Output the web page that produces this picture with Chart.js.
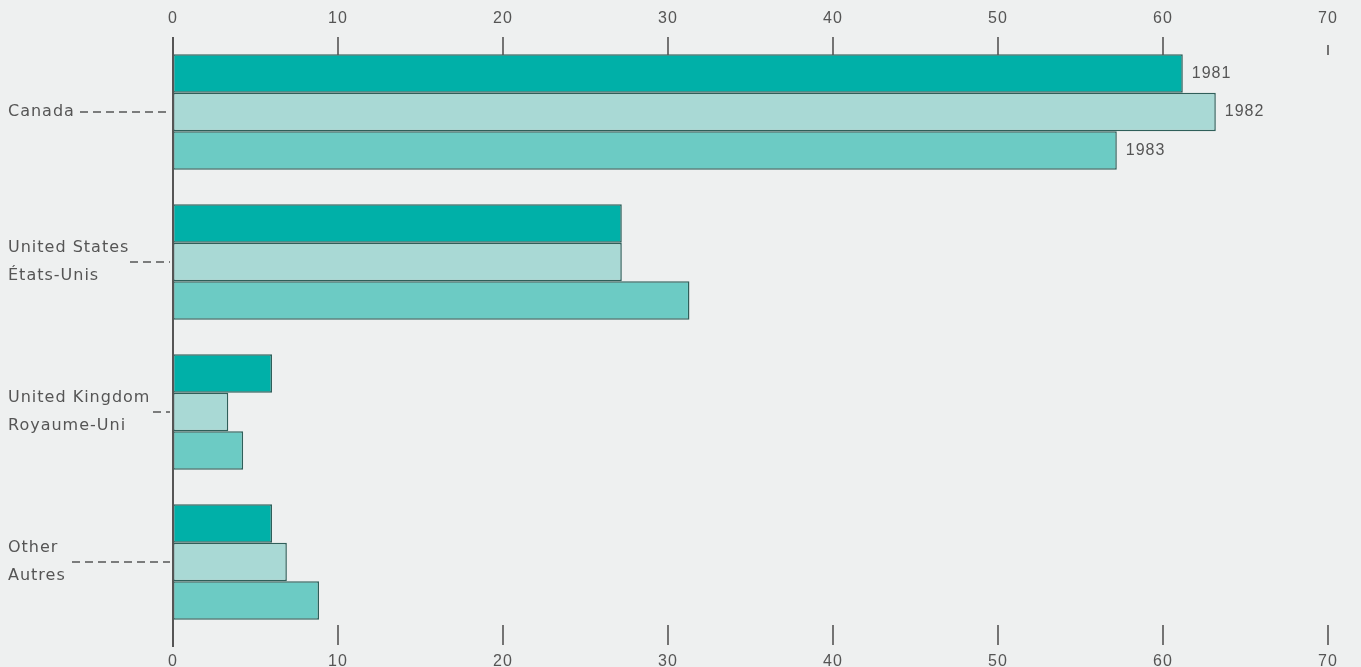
<!DOCTYPE html>
<html>
<head>
<meta charset="utf-8">
<script src="https://cdn.jsdelivr.net/npm/chart.js@4.4.0/dist/chart.umd.min.js"></script>
<style>
  html, body { margin: 0; padding: 0; background: #eef0f0; }
  #wrap { width: 1361px; height: 667px; }
</style>
</head>
<body>
<div id="wrap"><canvas id="chart"></canvas></div>
<script>
var countries = ["Canada", ["United States", "États-Unis"], ["United Kingdom", "Royaume-Uni"], ["Other", "Autres"]]
var years = ["1981", "1982", "1983"]
var v1981 = [61.2, 27.2, 6.0, 6.0]
var v1982 = [63.2, 27.2, 3.35, 6.9]
var v1983 = [57.2, 31.3, 4.25, 8.85]
var xTicks = [0, 10, 20, 30, 40, 50, 60, 70]

var colors = ["#00b0a8", "#a9d9d5", "#6ccbc4"]
var edge = "#2f5f5a"
var grey = "#555"
var numFont = "'Liberation Sans', Arial, sans-serif"

// where each dashed leader starts (x px) - it ends on the axis
var leaderFrom = [80, 130, 153, 72]

var extras = {
  id: "extras",
  beforeDraw: function (chart) {
    chart.ctx.letterSpacing = "1px"
  },
  afterDatasetsDraw: function (chart) {
    var ctx = chart.ctx
    var area = chart.chartArea
    var x = chart.scales.x
    var y = chart.scales.y
    ctx.save()
    // zero line
    ctx.strokeStyle = grey
    ctx.lineWidth = 2
    ctx.beginPath()
    ctx.moveTo(x.getPixelForValue(0), area.top)
    ctx.lineTo(x.getPixelForValue(0), area.bottom + 10)
    ctx.stroke()
    // tick marks
    ctx.lineWidth = 1.6
    xTicks.forEach(function (t) {
      if (t === 0) return
      var px = x.getPixelForValue(t)
      ctx.beginPath()
      ctx.moveTo(px, t === 70 ? area.top + 8 : area.top)
      ctx.lineTo(px, area.top + 18)
      ctx.moveTo(px, area.bottom - 12)
      ctx.lineTo(px, area.bottom + 8)
      ctx.stroke()
    })
    // dashed leaders
    ctx.setLineDash([8, 5])
    ctx.lineWidth = 1.4
    ctx.strokeStyle = "#555"
    countries.forEach(function (c, i) {
      var py = y.getPixelForValue(i)
      ctx.beginPath()
      ctx.moveTo(leaderFrom[i], py)
      ctx.lineTo(area.left - 3, py)
      ctx.stroke()
    })
    ctx.setLineDash([])
    // year labels on the Canada bars
    ctx.fillStyle = grey
    ctx.font = "16px " + numFont
    ctx.textBaseline = "middle"
    chart.data.datasets.forEach(function (ds, i) {
      var bar = chart.getDatasetMeta(i).data[0]
      ctx.fillText(ds.label, bar.x + 9, bar.y)
    })
    ctx.restore()
  }
}

var config = {
  type: "bar",
  data: {
    labels: countries,
    datasets: [
      { label: years[0], data: v1981, backgroundColor: colors[0] },
      { label: years[1], data: v1982, backgroundColor: colors[1] },
      { label: years[2], data: v1983, backgroundColor: colors[2] }
    ]
  },
  options: {
    indexAxis: "y",
    responsive: true,
    maintainAspectRatio: false,
    animation: false,
    layout: { padding: { left: 8, right: 33, top: 0, bottom: 0 } },
    datasets: {
      bar: {
        borderColor: edge,
        borderWidth: 1.5,
        borderSkipped: false,
        barPercentage: 1,
        categoryPercentage: 0.77
      }
    },
    plugins: {
      legend: { display: false },
      tooltip: { enabled: false }
    },
    scales: {
      x: {
        position: "bottom",
        min: 0,
        max: 70,
        afterBuildTicks: function (s) { s.ticks = xTicks.map(function (v) { return { value: v } }) },
        afterFit: function (s) { s.height = 30 },
        grid: { display: false, drawTicks: false },
        border: { display: false },
        ticks: { padding: 15, color: grey, font: { size: 16, family: numFont } }
      },
      xTop: {
        type: "linear",
        position: "top",
        min: 0,
        max: 70,
        afterBuildTicks: function (s) { s.ticks = xTicks.map(function (v) { return { value: v } }) },
        afterFit: function (s) { s.height = 37 },
        grid: { display: false, drawTicks: false },
        border: { display: false },
        ticks: { padding: 9, color: grey, font: { size: 16, family: numFont } }
      },
      y: {
        afterFit: function (s) { s.width = 165 },
        grid: { display: false, drawTicks: false },
        border: { display: false },
        ticks: {
          crossAlign: "far",
          color: grey,
          font: { size: 16, lineHeight: 1.75, family: "'DejaVu Sans', sans-serif" }
        }
      }
    }
  },
  plugins: [extras]
}

var chart = new Chart(document.getElementById("chart"), config)
</script>
</body>
</html>
